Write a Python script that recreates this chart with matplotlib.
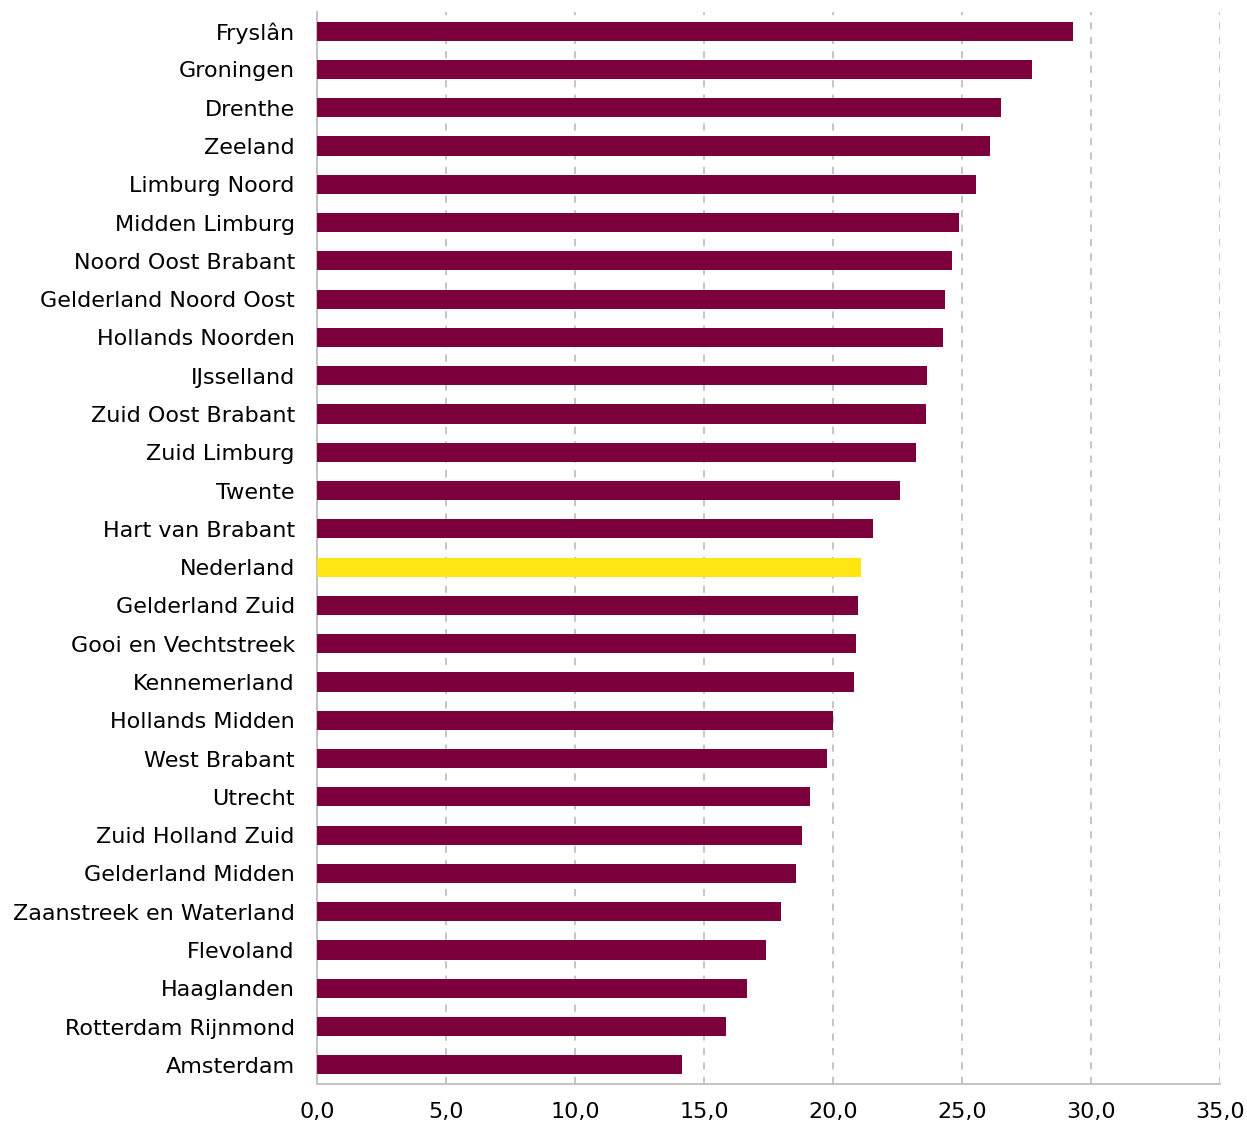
import matplotlib.pyplot as plt
import numpy as np

regions = ['Fryslân', 'Groningen', 'Drenthe', 'Zeeland', 'Limburg Noord',
           'Midden Limburg', 'Noord Oost Brabant', 'Gelderland Noord Oost',
           'Hollands Noorden', 'IJsselland', 'Zuid Oost Brabant', 'Zuid Limburg',
           'Twente', 'Hart van Brabant', 'Nederland', 'Gelderland Zuid',
           'Gooi en Vechtstreek', 'Kennemerland', 'Hollands Midden', 'West Brabant',
           'Utrecht', 'Zuid Holland Zuid', 'Gelderland Midden',
           'Zaanstreek en Waterland', 'Flevoland', 'Haaglanden',
           'Rotterdam Rijnmond', 'Amsterdam']
values = [29.3, 27.7, 26.5, 26.1, 25.55, 24.9, 24.6, 24.35, 24.25, 23.65,
          23.6, 23.2, 22.6, 21.55, 21.1, 20.95, 20.9, 20.8, 20.0, 19.75,
          19.1, 18.8, 18.55, 18.0, 17.4, 16.65, 15.85, 14.15]
ticks = [0, 5, 10, 15, 20, 25, 30, 35]

maroon = '#7B003C'
yellow = '#FFE512'
colors = [yellow if r == 'Nederland' else maroon for r in regions]

fig = plt.figure(figsize=(12.47, 11.26), dpi=100)
ax = fig.add_axes([0.2542, 0.0373, 0.7242, 0.9520])

y = np.arange(len(regions))
ax.barh(y, values, height=0.5, color=colors, zorder=3)
ax.set_ylim(len(regions) - 0.5, -0.5)
ax.set_xlim(0, 35)

ax.set_yticks(y)
ax.set_yticklabels(regions, fontsize=16)
ax.set_xticks(ticks)
# comma as decimal separator
ax.set_xticklabels([('%.1f' % t).replace('.', ',') for t in ticks], fontsize=16)
ax.tick_params(axis='both', length=0, colors='black')
ax.tick_params(axis='y', pad=16)
ax.tick_params(axis='x', pad=13)

ax.xaxis.grid(True, color='#C0C0C0', linestyle=(0, (4, 4)), linewidth=1.3, zorder=0)
for s in ['top', 'right']:
    ax.spines[s].set_visible(False)
for s in ['left', 'bottom']:
    ax.spines[s].set_color('#BFBFBF')
    ax.spines[s].set_linewidth(1.3)

plt.savefig('out.png')
